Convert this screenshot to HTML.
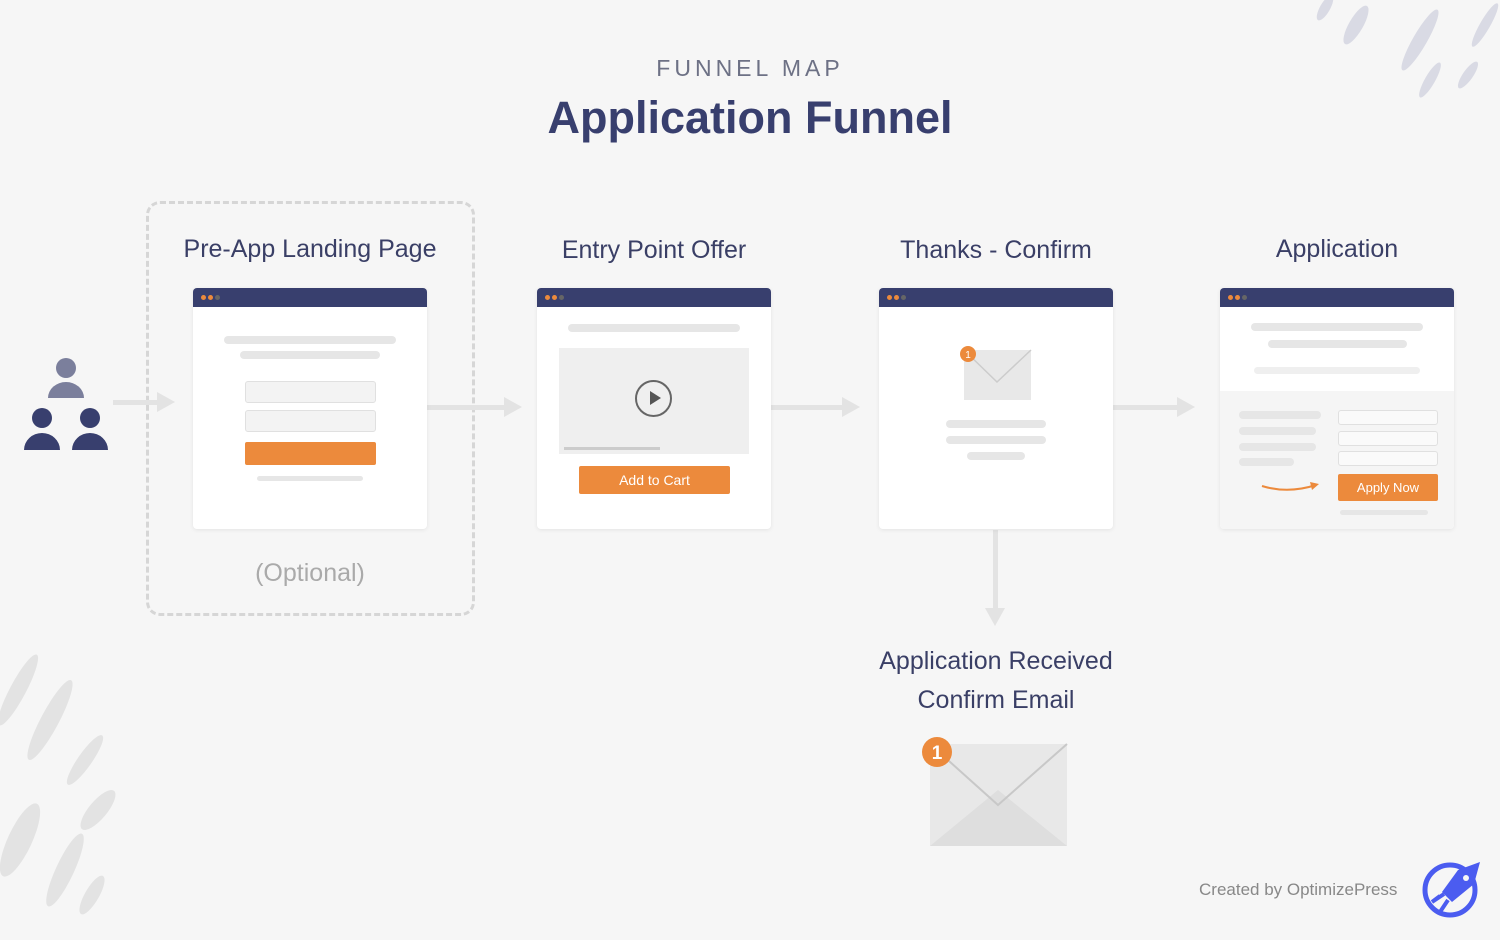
<!DOCTYPE html>
<html><head><style>
*{margin:0;padding:0;box-sizing:border-box}
body{width:1500px;height:939px;background:#f6f6f6;position:relative;overflow:hidden;font-family:"Liberation Sans",sans-serif}
.a{position:absolute}
.t{position:absolute;text-align:center;color:#3a3f66;font-size:25px;white-space:nowrap}
.card{position:absolute;top:288px;width:234px;height:241px;background:#fff;border-radius:4px;box-shadow:0 1px 4px rgba(0,0,0,.08);overflow:hidden}
.hd{position:absolute;left:0;top:0;width:100%;height:19px;background:#383f6e}
.dot{position:absolute;top:7px;width:5px;height:5px;border-radius:50%;background:#ec8a3c}
.bar{position:absolute;background:#e6e6e6;border-radius:4px}
.in{position:absolute;background:#f3f3f3;border:1.5px solid #e0e0e0;border-radius:3px}
.btn{position:absolute;background:#ec8a3c;color:#fff;text-align:center;border-radius:2px}
.ar{position:absolute;background:#e3e3e3;height:5px}
.ah{position:absolute;width:0;height:0;border-top:10px solid transparent;border-bottom:10px solid transparent;border-left:18px solid #e3e3e3}
</style></head><body>
<div class="t" style="left:0;width:1500px;top:55px;font-size:23px;letter-spacing:4px;color:#6d7185">FUNNEL MAP</div>
<div class="t" style="left:0;width:1500px;top:92px;font-size:45px;font-weight:bold;color:#383f6e">Application Funnel</div>

<div class="a" style="left:146px;top:201px;width:329px;height:415px;border:3px dashed #d6d6d6;border-radius:14px"></div>

<div class="t" style="left:110px;width:400px;top:235px">Pre-App Landing Page</div>
<div class="t" style="left:454px;width:400px;top:236px">Entry Point Offer</div>
<div class="t" style="left:796px;width:400px;top:236px">Thanks - Confirm</div>
<div class="t" style="left:1137px;width:400px;top:235px">Application</div>
<div class="t" style="left:110px;width:400px;top:559px;color:#aaa">(Optional)</div>
<div class="t" style="left:796px;width:400px;top:642px;line-height:39px">Application Received<br>Confirm Email</div>

<svg class="a" style="left:22px;top:356px" width="90" height="96">
<circle cx="44" cy="12" r="10" fill="#7b7f9c"/><path d="M26 42 a18 16 0 0 1 36 0z" fill="#7b7f9c"/>
<circle cx="20" cy="62" r="10" fill="#383f6e"/><path d="M2 94 a18 17 0 0 1 36 0z" fill="#383f6e"/>
<circle cx="68" cy="62" r="10" fill="#383f6e"/><path d="M50 94 a18 17 0 0 1 36 0z" fill="#383f6e"/>
</svg>

<div class="ar" style="left:113px;top:400px;width:45px"></div><div class="ah" style="left:157px;top:392px"></div>
<div class="ar" style="left:427px;top:405px;width:78px"></div><div class="ah" style="left:504px;top:397px"></div>
<div class="ar" style="left:771px;top:405px;width:72px"></div><div class="ah" style="left:842px;top:397px"></div>
<div class="ar" style="left:1113px;top:405px;width:65px"></div><div class="ah" style="left:1177px;top:397px"></div>
<div class="a" style="left:993px;top:530px;width:5px;height:80px;background:#e3e3e3"></div>
<div class="a" style="left:985px;top:608px;border-left:10px solid transparent;border-right:10px solid transparent;border-top:18px solid #e3e3e3"></div>

<div class="card" style="left:193px">
<div class="hd"><div class="dot" style="left:8px"></div><div class="dot" style="left:15px"></div><div class="dot" style="left:22px;background:#666"></div></div>
<div class="bar" style="left:31px;top:48px;width:172px;height:8px"></div>
<div class="bar" style="left:47px;top:63px;width:140px;height:8px"></div>
<div class="in" style="left:52px;top:93px;width:131px;height:22px"></div>
<div class="in" style="left:52px;top:122px;width:131px;height:22px"></div>
<div class="btn" style="left:52px;top:154px;width:131px;height:23px"></div>
<div class="bar" style="left:64px;top:188px;width:106px;height:5px"></div>
</div>
<div class="card" style="left:537px">
<div class="hd"><div class="dot" style="left:8px"></div><div class="dot" style="left:15px"></div><div class="dot" style="left:22px;background:#666"></div></div>
<div class="bar" style="left:31px;top:36px;width:172px;height:8px"></div>
<div class="a" style="left:22px;top:60px;width:190px;height:106px;background:#efefef"></div>
<div class="a" style="left:98px;top:92px;width:37px;height:37px;border:2px solid #666;border-radius:50%"></div>
<div class="a" style="left:113px;top:103px;border-top:7px solid transparent;border-bottom:7px solid transparent;border-left:11px solid #555"></div>
<div class="a" style="left:27px;top:159px;width:96px;height:3px;background:#ccc"></div>
<div class="btn" style="left:42px;top:178px;width:151px;height:28px;font-size:14px;line-height:28px">Add to Cart</div>
</div>
<div class="card" style="left:879px">
<div class="hd"><div class="dot" style="left:8px"></div><div class="dot" style="left:15px"></div><div class="dot" style="left:22px;background:#666"></div></div>
<svg class="a" style="left:78px;top:56px" width="80" height="58"><rect x="7" y="6" width="67" height="50" fill="#e8e8e8"/><path d="M7 6 L40 38 L74 6" fill="none" stroke="#ccc" stroke-width="1.5"/><circle cx="11" cy="10" r="8" fill="#ec8a3c"/><text x="11" y="14" font-size="10" fill="#fff" text-anchor="middle" font-family="Liberation Sans">1</text></svg>
<div class="bar" style="left:67px;top:132px;width:100px;height:8px"></div>
<div class="bar" style="left:67px;top:148px;width:100px;height:8px"></div>
<div class="bar" style="left:88px;top:164px;width:58px;height:8px"></div>
</div>
<div class="card" style="left:1220px">
<div class="hd"><div class="dot" style="left:8px"></div><div class="dot" style="left:15px"></div><div class="dot" style="left:22px;background:#666"></div></div>
<div class="bar" style="left:31px;top:35px;width:172px;height:8px"></div>
<div class="bar" style="left:48px;top:52px;width:139px;height:8px"></div>
<div class="bar" style="left:34px;top:79px;width:166px;height:7px;background:#efefef"></div>
<div class="a" style="left:0;top:103px;width:234px;height:138px;background:#f5f5f5"></div>
<div class="bar" style="left:19px;top:123px;width:82px;height:8px"></div>
<div class="bar" style="left:19px;top:139px;width:77px;height:8px"></div>
<div class="bar" style="left:19px;top:155px;width:77px;height:8px"></div>
<div class="bar" style="left:19px;top:170px;width:55px;height:8px"></div>
<div class="in" style="left:118px;top:122px;width:100px;height:15px;background:#fafafa"></div>
<div class="in" style="left:118px;top:143px;width:100px;height:15px;background:#fafafa"></div>
<div class="in" style="left:118px;top:163px;width:100px;height:15px;background:#fafafa"></div>
<svg class="a" style="left:40px;top:192px" width="62" height="18"><path d="M2 6 Q28 14 56 5" fill="none" stroke="#ec8a3c" stroke-width="2"/><path d="M50 2 L59 4 L52 10" fill="#ec8a3c"/></svg>
<div class="btn" style="left:118px;top:186px;width:100px;height:27px;font-size:13px;line-height:27px">Apply Now</div>
<div class="bar" style="left:120px;top:222px;width:88px;height:5px"></div>
</div>

<svg class="a" style="left:920px;top:735px" width="150" height="115">
<rect x="10" y="9" width="137" height="102" fill="#e8e8e8"/>
<path d="M10 111 L78 55 L147 111" fill="#dedede"/>
<path d="M10 9 L78 70 L147 9" fill="none" stroke="#c8c8c8" stroke-width="2"/>
<circle cx="17" cy="17" r="15" fill="#ec8a3c"/><text x="17" y="24" font-size="19" fill="#fff" text-anchor="middle" font-family="Liberation Sans" font-weight="bold">1</text>
</svg>

<svg class="a" style="left:0;top:640px" width="130" height="300">
<g fill="#e3e3e3">
<ellipse cx="18" cy="50" rx="8" ry="40" transform="rotate(28 18 50)"/>
<ellipse cx="50" cy="80" rx="9" ry="45" transform="rotate(28 50 80)"/>
<ellipse cx="85" cy="120" rx="7" ry="30" transform="rotate(35 85 120)"/>
<ellipse cx="98" cy="170" rx="9" ry="25" transform="rotate(40 98 170)"/>
<ellipse cx="20" cy="200" rx="12" ry="40" transform="rotate(25 20 200)"/>
<ellipse cx="65" cy="230" rx="9" ry="40" transform="rotate(25 65 230)"/>
<ellipse cx="92" cy="255" rx="7" ry="22" transform="rotate(30 92 255)"/>
</g></svg>
<svg class="a" style="left:1300px;top:0" width="200" height="110">
<g fill="#d9dae4">
<ellipse cx="25" cy="8" rx="5" ry="14" transform="rotate(30 25 8)"/>
<ellipse cx="56" cy="25" rx="7" ry="22" transform="rotate(30 56 25)"/>
<ellipse cx="120" cy="40" rx="7" ry="35" transform="rotate(30 120 40)"/>
<ellipse cx="130" cy="80" rx="5" ry="20" transform="rotate(30 130 80)"/>
<ellipse cx="168" cy="75" rx="5" ry="16" transform="rotate(35 168 75)"/>
<ellipse cx="185" cy="25" rx="5" ry="25" transform="rotate(30 185 25)"/>
</g></svg>

<div class="a" style="left:1199px;top:880px;font-size:17px;color:#888;white-space:nowrap">Created by OptimizePress</div>
<svg class="a" style="left:1422px;top:858px" width="62" height="62">
<circle cx="28" cy="32" r="25" fill="none" stroke="#4b5cf0" stroke-width="5"/>
<path d="M58 4 L36 12 L20 34 L30 44 L52 26 Z" fill="#4b5cf0"/>
<path d="M22 36 L10 44 L18 38 M26 42 L18 54" stroke="#4b5cf0" stroke-width="4" fill="none"/>
<circle cx="44" cy="20" r="3" fill="#f6f6f6"/>
</svg>
</body></html>
